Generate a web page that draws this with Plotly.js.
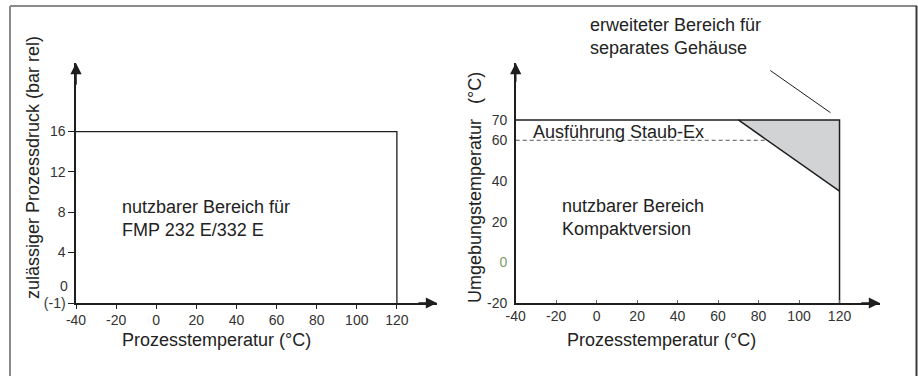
<!DOCTYPE html>
<html><head><meta charset="utf-8">
<script src="https://cdn.plot.ly/plotly-3.0.1.min.js"></script>
<style>html,body{margin:0;padding:0;background:#fff}#c{width:918px;height:376px}</style>
</head><body><div id="c"></div>
<script>
// Left chart: usable range (process temperature vs pressure)
const leftX = [-40, 120, 120];
const leftY = [16, 16, -1];
const leftXTicks = [-40, -20, 0, 20, 40, 60, 80, 100, 120];
const leftXText = ["-40", "-20", "0", "20", "40", "60", "80", "100", "120"];
const leftYTicks = [-1, 4, 8, 12, 16];
const leftYText = ["(-1)", "4", "8", "12", "16"];
const leftZeroLabel = "0";

// Right chart: ambient temperature vs process temperature
const rightBoxX = [-40, 120, 120];
const rightBoxY = [70, 70, -20];
const slopeX = [70, 120];
const slopeY = [70, 35];
const greyX = [70, 120, 120, 70];
const greyY = [70, 70, 35, 70];
const dustX = [-40, 84];
const dustY = [60, 60];
const leaderX = [85.8, 115.5];
const leaderY = [94.3, 73.6];
const rightXTicks = [-40, -20, 0, 20, 40, 60, 80, 100, 120];
const rightXText = ["-40", "-20", "0", "20", "40", "60", "80", "100", "120"];
const rightYTicks = [-20, 0, 20, 40, 60, 70];
const rightYText = ["-20", "<span style='color:#7f9a68'>0</span>", "20", "40", "60", "70"];

const ink = '#1e1e1e';
const font = 'Liberation Sans, Arial, sans-serif';
const W = 918, H = 376;

const traces = [
  {x: leftX, y: leftY, xaxis: 'x', yaxis: 'y', mode: 'lines', line: {color: ink, width: 1.3}, hoverinfo: 'skip'},
  {x: greyX, y: greyY, xaxis: 'x2', yaxis: 'y2', mode: 'lines', fill: 'toself', fillcolor: '#d2d3d5', line: {width: 0}, hoverinfo: 'skip'},
  {x: rightBoxX, y: rightBoxY, xaxis: 'x2', yaxis: 'y2', mode: 'lines', line: {color: ink, width: 1.5}, hoverinfo: 'skip'},
  {x: slopeX, y: slopeY, xaxis: 'x2', yaxis: 'y2', mode: 'lines', line: {color: ink, width: 1.5}, hoverinfo: 'skip'},
  {x: dustX, y: dustY, xaxis: 'x2', yaxis: 'y2', mode: 'lines', line: {color: '#555', width: 1, dash: '4px,3px'}, hoverinfo: 'skip'},
  {x: leaderX, y: leaderY, xaxis: 'x2', yaxis: 'y2', mode: 'lines', line: {color: ink, width: 1}, hoverinfo: 'skip', cliponaxis: false}
];

const yDom = [1 - 303 / H, 1 - 63 / H];
const tickFont = {family: font, size: 14, color: '#333'};
const axBase = {showline: true, linecolor: ink, linewidth: 1.6, showgrid: false, zeroline: false,
  tickfont: tickFont, fixedrange: true};

const txt = {size: 18, color: '#222'};
const layout = {
  width: W, height: H, margin: {l: 0, r: 0, t: 0, b: 0},
  paper_bgcolor: '#fff', plot_bgcolor: 'rgba(0,0,0,0)', showlegend: false,
  font: {family: font, color: '#222'},
  xaxis: Object.assign({}, axBase, {domain: [76 / W, 437 / W], range: [-40, 140], anchor: 'y',
    tickmode: 'array', tickvals: leftXTicks, ticktext: leftXText, ticks: 'outside', ticklen: 4, tickcolor: ink, tickwidth: 1}),
  yaxis: Object.assign({}, axBase, {domain: yDom, range: [-1, 22.8], anchor: 'x',
    tickmode: 'array', tickvals: leftYTicks, ticktext: leftYText, ticks: 'outside', ticklen: 6, tickcolor: ink, tickwidth: 1}),
  xaxis2: Object.assign({}, axBase, {domain: [515.7 / W, 880 / W], range: [-40, 140], anchor: 'y2',
    tickmode: 'array', tickvals: rightXTicks, ticktext: rightXText, ticks: 'inside', ticklen: 3, tickcolor: '#666', tickwidth: 1}),
  yaxis2: Object.assign({}, axBase, {domain: yDom, range: [-20, 98], anchor: 'x2',
    tickmode: 'array', tickvals: rightYTicks, ticktext: rightYText, ticks: '', ticklabelstandoff: 4}),
  annotations: [
    // "0" label of the left pressure axis (no tick mark, sits just above "(-1)")
    {xref: 'x', yref: 'y', x: -40, y: 0, xanchor: 'right', yanchor: 'middle', xshift: -7, yshift: 7, borderpad: 0, text: leftZeroLabel, showarrow: false, font: tickFont},
    // axis arrowheads
    {xref: 'x', yref: 'y', x: 140, y: -1, axref: 'x', ayref: 'y', ax: 130, ay: -1, text: '', showarrow: true, arrowhead: 2, arrowsize: 1.4, arrowwidth: 1.6, arrowcolor: ink},
    {xref: 'x', yref: 'y', x: -40, y: 22.8, axref: 'x', ayref: 'y', ax: -40, ay: 20.5, text: '', showarrow: true, arrowhead: 2, arrowsize: 1.4, arrowwidth: 1.6, arrowcolor: ink},
    {xref: 'x2', yref: 'y2', x: 140, y: -20, axref: 'x2', ayref: 'y2', ax: 130, ay: -20, text: '', showarrow: true, arrowhead: 2, arrowsize: 1.4, arrowwidth: 1.6, arrowcolor: ink},
    {xref: 'x2', yref: 'y2', x: -40, y: 98, axref: 'x2', ayref: 'y2', ax: -40, ay: 88, text: '', showarrow: true, arrowhead: 2, arrowsize: 1.4, arrowwidth: 1.6, arrowcolor: ink},
    // axis titles
    {xref: 'paper', yref: 'paper', x: 216 / W, y: 1 - 340 / H, xanchor: 'center', yanchor: 'middle', text: 'Prozesstemperatur (°C)', showarrow: false, font: txt},
    {xref: 'paper', yref: 'paper', x: 661 / W, y: 1 - 340 / H, xanchor: 'center', yanchor: 'middle', text: 'Prozesstemperatur (°C)', showarrow: false, font: txt},
    {xref: 'paper', yref: 'paper', x: 33 / W, y: 1 - 168 / H, xanchor: 'center', yanchor: 'middle', text: 'zulässiger Prozessdruck (bar rel)', textangle: -90, showarrow: false, font: txt},
    {xref: 'paper', yref: 'paper', x: 475 / W, y: 1 - 188 / H, xanchor: 'center', yanchor: 'middle', text: 'Umgebungstemperatur&nbsp;&nbsp;&nbsp;(°C)', textangle: -90, showarrow: false, font: txt},
    // labels
    {xref: 'x', yref: 'y', x: -18, y: 7.4, xanchor: 'left', yanchor: 'middle', align: 'left', text: 'nutzbarer Bereich für<br>FMP 232 E/332 E', showarrow: false, font: txt},
    {xref: 'x2', yref: 'y2', x: -32.4, y: 64.2, xanchor: 'left', yanchor: 'middle', text: 'Ausführung Staub-Ex', showarrow: false, font: txt},
    {xref: 'x2', yref: 'y2', x: -17.9, y: 21.8, xanchor: 'left', yanchor: 'middle', align: 'left', text: 'nutzbarer Bereich<br>Kompaktversion', showarrow: false, font: txt},
    {xref: 'paper', yref: 'paper', x: 588 / W, y: 1 - 36.5 / H, xanchor: 'left', yanchor: 'middle', align: 'left', text: 'erweiteter Bereich für<br>separates Gehäuse', showarrow: false, font: txt}
  ],
  shapes: [
    {type: 'line', xref: 'paper', yref: 'paper', x0: 10 / W, x1: 917 / W, y0: 1 - 6 / H, y1: 1 - 6 / H, line: {color: '#8a8a8a', width: 2}},
    {type: 'line', xref: 'paper', yref: 'paper', x0: 10 / W, x1: 10 / W, y0: 1 - 6 / H, y1: 0, line: {color: '#8a8a8a', width: 2}},
    {type: 'line', xref: 'paper', yref: 'paper', x0: 916.5 / W, x1: 916.5 / W, y0: 1 - 6 / H, y1: 0, line: {color: '#3a3a3a', width: 2}}
  ]
};

Plotly.newPlot('c', traces, layout, {staticPlot: true, displayModeBar: false});
</script></body></html>
